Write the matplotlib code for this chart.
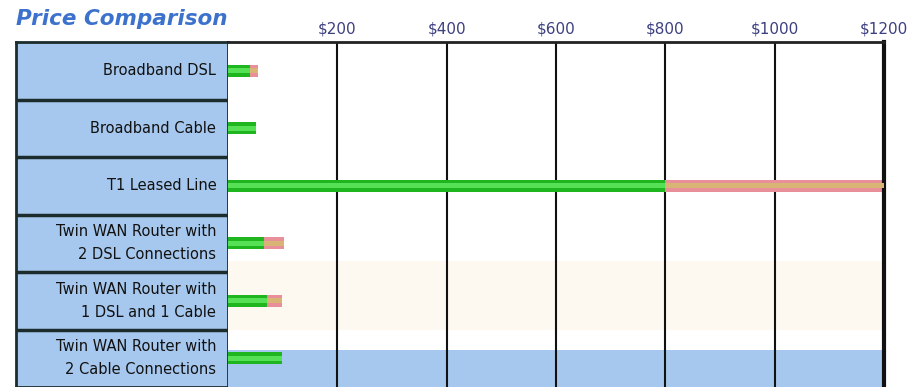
import numpy as np
import matplotlib.pyplot as plt

# options and their monthly cost (green = base, orange = extra on top)
options = ['Broadband DSL', 'Broadband Cable', 'T1 Leased Line',
           'Twin WAN Router with\n2 DSL Connections',
           'Twin WAN Router with\n1 DSL and 1 Cable',
           'Twin WAN Router with\n2 Cable Connections']
base = [40, 51, 800, 65, 71, 98]
extra = [15, 0, 400, 37, 27, 0]
ticks = [200, 400, 600, 800, 1000, 1200]
tick_labels = ['$200', '$400', '$600', '$800', '$1000', '$1200']

W, H = 920, 387
fig = plt.figure(figsize=(W / 100, H / 100), dpi=100)
fig.patch.set_facecolor('white')

top = 1 - 42 / H
# label panel on the left
lab = fig.add_axes([16 / W, 0, (228 - 16) / W, top])
lab.set_xlim(0, 1)
lab.set_ylim(6, 0)
lab.set_facecolor('#a7c8ee')
lab.set_xticks([])
lab.set_yticks([])
for s in lab.spines.values():
    s.set_color('#1c2c2c')
    s.set_linewidth(2)
for i in range(1, 6):
    lab.axhline(i, color='#1c2c2c', lw=2.5)
for i, name in enumerate(options):
    lab.text(0.945, i + 0.5, name, ha='right', va='center', fontsize=10.5,
             color='#111111', linespacing=1.7)

# chart area
ax = fig.add_axes([228 / W, 0, (884 - 228) / W, top])
ax.set_xlim(0, 1200)
ax.set_ylim(6, 0)
ax.axhspan(3.81, 5.0, color='#fdf9f0', lw=0, zorder=0)
ax.axhspan(5.36, 6.0, color='#a7c8ee', lw=0, zorder=0)
for t in ticks[:-1]:
    ax.axvline(t, color='#111111', lw=1.5, zorder=1)

y = np.arange(len(options)) + 0.5
base = np.array(base)
extra = np.array(extra)
ax.barh(y, base, height=0.21, color='#1fb51f', zorder=2)
ax.barh(y, base, height=0.09, color='#55e055', zorder=3)
ax.barh(y, extra, left=base, height=0.21, color='#e88f9a', zorder=2)
ax.barh(y, extra, left=base, height=0.09, color='#d8b574', zorder=3)

ax.set_yticks([])
ax.set_xticks(ticks)
ax.set_xticklabels(tick_labels)
ax.xaxis.tick_top()
ax.tick_params(axis='x', length=0, pad=4, labelsize=11, labelcolor='#3d4080')
ax.spines['top'].set_color('#222222')
ax.spines['top'].set_linewidth(2)
ax.spines['right'].set_color('#111111')
ax.spines['right'].set_linewidth(3)
ax.spines['left'].set_visible(False)
ax.spines['bottom'].set_visible(False)

fig.text(16 / W, 1 - 19 / H, 'Price Comparison', ha='left', va='center',
         fontsize=15.5, style='italic', weight='bold', color='#3d72cc')

fig.savefig('out.png', dpi=100)
